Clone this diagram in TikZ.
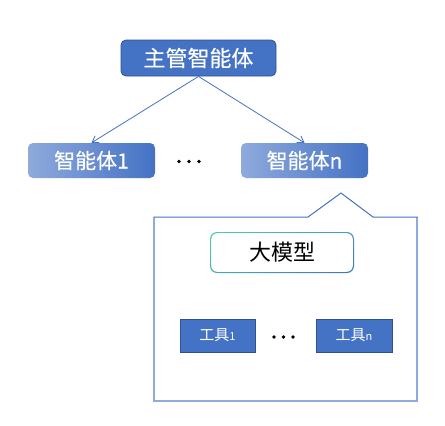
\documentclass[tikz,border=0pt]{standalone}
\usepackage{fontspec}
\newfontfamily\cjk[FakeBold=0.3]{Noto Sans CJK SC}
\newfontfamily\cjkr{Noto Sans CJK SC}
\usetikzlibrary{arrows.meta,shadings}
\definecolor{mainblue}{HTML}{4472C4}
\definecolor{darkblue}{HTML}{2F528F}
\definecolor{lightblue}{HTML}{8FAADC}
\definecolor{tealc}{HTML}{4FD1A1}
\tikzset{
  mainbox/.style={draw=darkblue, line width=0.8pt, fill=mainblue, rounded corners=5pt,
    minimum width=155pt, minimum height=36pt, inner sep=0pt, text=white, font=\cjk\fontsize{22}{24}\selectfont},
  agentbox/.style={rounded corners=5pt, left color=lightblue, right color=mainblue,
    minimum width=127pt, minimum height=35pt, inner sep=0pt, text=white, font=\cjk\fontsize{21}{24}\selectfont},
  toolbox/.style={draw=darkblue, line width=0.8pt, fill=mainblue,
    minimum height=33pt, inner sep=0pt, text=white, font=\cjkr\fontsize{15}{16}\selectfont},
  dotc/.style={circle, fill=black, inner sep=0pt, minimum size=3.8pt},
  conn/.style={mainblue, line width=0.8pt, -{Straight Barb[length=6pt,width=8pt,line width=0.8pt]}},
}
\begin{document}
\begin{tikzpicture}[x=1pt,y=-1pt]
\useasboundingbox (0,0) rectangle (445,426);
% top level
\node[mainbox] (boss) at (198.5,58) {主管智能体};
\node[agentbox] (a1) at (91.5,160.5) {智能体1};
\node[agentbox] (an) at (304.5,160.5) {智能体n};
\node[dotc] (d1) at (179,161.5) {};
\node[dotc] (d2) at (189,161.5) {};
\node[dotc] (d3) at (199,161.5) {};
\draw[conn] (boss.south) -- (a1.north);
\draw[conn] (boss.south) -- (an.north);
% callout
\coordinate (cTL) at (154,217);
\coordinate (cP1) at (308,217);
\coordinate (cApex) at (341,193);
\coordinate (cP2) at (373,217);
\coordinate (cTR) at (417,217);
\coordinate (cBR) at (417,401);
\coordinate (cBL) at (154,401);
\draw[lightblue, line width=1.4pt] (cTR) -- (cBR) -- (cBL) -- (cTL);
\draw[mainblue, line width=1pt, line cap=rect] (cTL) -- (cP1) -- (cApex) -- (cP2) -- (cTR);
% LLM box with gradient border
\shade[rounded corners=7pt, upper left=tealc, lower right=mainblue, upper right=mainblue!60!tealc, lower left=tealc!60!mainblue]
  (210,232) rectangle (354,273);
\fill[white, rounded corners=6pt] (211.2,233.2) rectangle (352.8,271.8);
\node[font=\cjkr\fontsize{22}{24}\selectfont, text=black] (llm) at (282,252.5) {大模型};
% tools
\node[toolbox, minimum width=75pt] (t1) at (217.5,335.5) {工具{\fontsize{11}{12}\selectfont 1}};
\node[toolbox, minimum width=76pt] (tn) at (354,335.5) {工具{\fontsize{11}{12}\selectfont n}};
\node[dotc] (e1) at (274,337) {};
\node[dotc] (e2) at (283.5,337) {};
\node[dotc] (e3) at (293,337) {};
\end{tikzpicture}
\end{document}
